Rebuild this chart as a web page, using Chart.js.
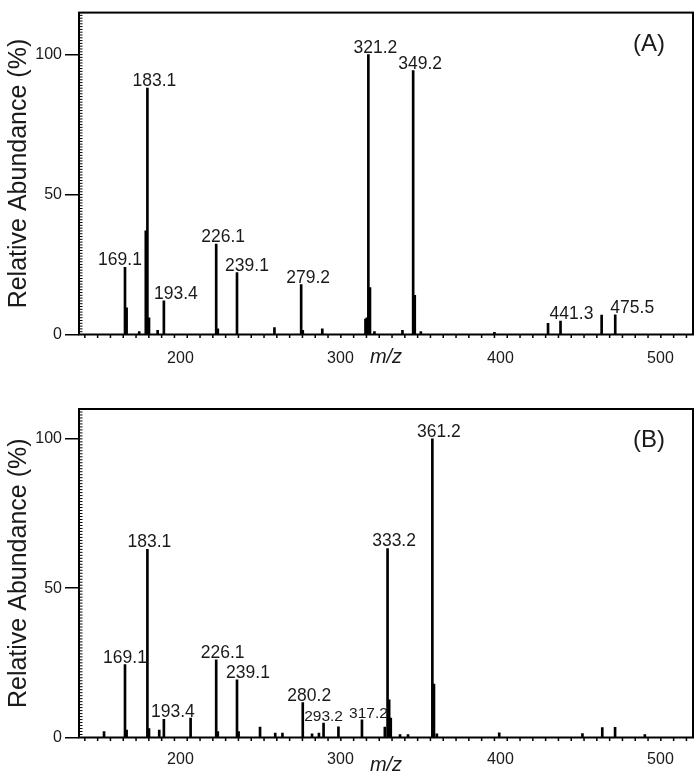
<!DOCTYPE html>
<html><head><meta charset="utf-8">
<script src="https://cdn.jsdelivr.net/npm/chart.js@4/dist/chart.umd.min.js"></script>
<style>
html,body{margin:0;padding:0;background:#fff;}
#wrap{position:relative;width:700px;height:777px;}
canvas{display:block;}
</style></head><body>
<div id="wrap">
<canvas id="cA" width="700" height="372"></canvas>
<canvas id="cB" width="700" height="405"></canvas>
</div>
<script>
// ---- data ----
const xTickValues = [200, 300, 400, 500];
const yTickValues = [0, 50, 100];
const yTitle = 'Relative Abundance (%)';
const xTitle = 'm/z';

const mzA = [169.1, 170.1, 178.0, 182.1, 183.1, 184.1, 189.5, 193.4, 226.1, 227.1, 239.1, 262.5, 279.2, 280.2, 292.4, 319.4, 320.2, 321.2, 322.2, 325.0, 342.5, 349.2, 350.2, 354.0, 400.0, 433.5, 441.3, 467.0, 475.5];
const abA = [24.0, 9.5, 1.0, 37.0, 88.0, 6.0, 1.5, 12.0, 32.3, 2.0, 22.1, 2.5, 17.8, 1.5, 2.0, 5.5, 6.0, 100.0, 16.8, 1.0, 1.5, 94.3, 14.0, 1.0, 0.8, 4.0, 4.8, 6.9, 7.0];
const labelsA = ['169.1', '183.1', '193.4', '226.1', '239.1', '279.2', '321.2', '349.2', '441.3', '475.5'];

const mzB = [156.0, 169.1, 170.1, 183.1, 184.1, 190.5, 193.4, 210.1, 226.1, 227.1, 239.1, 240.1, 253.5, 263.0, 267.5, 280.2, 286.0, 290.3, 293.2, 302.5, 317.2, 331.5, 333.2, 334.2, 335.2, 341.0, 346.0, 361.2, 362.2, 364.0, 403.0, 455.0, 467.4, 475.4, 494.0];
const abB = [2.0, 24.4, 2.5, 63.0, 3.0, 2.5, 6.1, 6.5, 26.0, 2.0, 19.3, 2.0, 3.5, 1.5, 1.5, 11.7, 1.2, 1.5, 4.8, 3.6, 5.9, 3.5, 63.3, 12.6, 6.5, 1.0, 1.0, 100.0, 17.9, 1.2, 1.6, 1.3, 3.3, 3.4, 1.0];
const labelsB = ['169.1', '183.1', '193.4', '226.1', '239.1', '280.2', '293.2', '317.2', '333.2', '361.2'];

const panelNames = ['(A)', '(B)'];

// ---- drawing ----
const FONT = '"Liberation Sans", Arial, Helvetica, sans-serif';
const TXT = '#1a1a1a';

const decor = {
  id: 'decor',
  afterDatasetsDraw(chart, args, o) {
    const ctx = chart.ctx, xs = chart.scales.x, ys = chart.scales.y, ca = chart.chartArea;
    ctx.save();
    ctx.strokeStyle = '#000';
    ctx.lineWidth = 1;
    // y minor ticks (inside)
    for (let v = 0; v <= ys.max; v += 1) {
      const y = ys.getPixelForValue(v);
      ctx.beginPath(); ctx.moveTo(ca.left, y); ctx.lineTo(ca.left + 3.5, y); ctx.stroke();
    }
    // x minor ticks (below axis)
    ctx.lineWidth = 1.5;
    for (let v = 200 - 64; v <= xs.max; v += 8) {
      if (v < xs.min) continue;
      const x = xs.getPixelForValue(v);
      ctx.beginPath(); ctx.moveTo(x, ca.bottom); ctx.lineTo(x, ca.bottom + 3.5); ctx.stroke();
    }
    // frame
    ctx.lineWidth = 2;
    ctx.strokeRect(ca.left, ca.top, ca.right - ca.left, ca.bottom - ca.top);
    // peak labels
    const pts = chart.data.datasets[0].data;
    ctx.fillStyle = TXT;
    ctx.textAlign = 'center';
    ctx.textBaseline = 'alphabetic';
    o.labels.forEach(lab => {
      const v = parseFloat(lab);
      const p = pts.find(q => q.x === v);
      if (!p) return;
      const small = o.small.includes(lab);
      ctx.font = (small ? '15.5px ' : '17.5px ') + FONT;
      const dx = (lab in o.nudge) ? o.nudge[lab] : o.dx;
      ctx.fillText(lab, xs.getPixelForValue(v) + dx, ys.getPixelForValue(p.y) - 2);
    });
    // panel name
    ctx.font = '24px ' + FONT;
    ctx.textBaseline = 'middle';
    ctx.fillText(o.name, ca.right - 44, ca.top + 31.5);
    ctx.restore();
  }
};

function makePanel(id, mz, ab, labels, cfg) {
  const data = mz.map((m, i) => ({ x: m, y: ab[i] }));
  return new Chart(document.getElementById(id), {
    type: 'bar',
    data: { datasets: [{ data, backgroundColor: '#000', borderWidth: 0, barThickness: 2 }] },
    options: {
      responsive: false, animation: false, devicePixelRatio: 1,
      layout: { padding: { top: cfg.padTop, right: 7, left: 0, bottom: 0 } },
      plugins: {
        legend: { display: false }, tooltip: { enabled: false },
        decor: { labels, name: cfg.name, dx: cfg.dx, nudge: cfg.nudge, small: cfg.small }
      },
      scales: {
        x: {
          type: 'linear', min: 140.35, max: 524.1, offset: false,
          grid: { display: false, offset: false },
          border: { display: false },
          afterBuildTicks: s => { s.ticks = xTickValues.map(v => ({ value: v })); },
          afterFit: s => { s.height = cfg.xH; },
          ticks: { padding: cfg.xPad, labelOffset: 6, maxRotation: 0, autoSkip: false,
                   color: TXT, font: { family: FONT, size: 16 } },
          title: { display: true, text: xTitle, color: TXT,
                   font: { family: FONT, size: 20, style: 'italic' },
                   padding: { top: 0, bottom: cfg.xTitlePad } }
        },
        y: {
          min: 0, max: cfg.yMax,
          grid: { display: true, drawOnChartArea: false, drawTicks: true, tickLength: 14,
                  color: '#000', lineWidth: 1.5 },
          border: { display: false },
          afterBuildTicks: s => { s.ticks = yTickValues.map(v => ({ value: v })); },
          afterFit: s => { s.width = 79; },
          ticks: { padding: 3, color: TXT, font: { family: FONT, size: 16 } },
          title: { display: true, text: yTitle, color: TXT,
                   font: { family: FONT, size: 25 }, padding: { top: 4, bottom: 0 } }
        }
      }
    },
    plugins: [decor]
  });
}

makePanel('cA', mzA, abA, labelsA, {
  name: panelNames[0], padTop: 8.5, xH: 37.5, xPad: 6, xTitlePad: 3, yMax: 115, dx: 7,
  nudge: { '169.1': -5, '193.4': 12, '239.1': 10, '441.3': 11, '475.5': 17 }, small: []
});
makePanel('cB', mzB, abB, labelsB, {
  name: panelNames[1], padTop: 37, xH: 39.5, xPad: 4, xTitlePad: 0, yMax: 110, dx: 6.5,
  nudge: { '169.1': 0, '183.1': 2, '193.4': 9, '239.1': 11, '293.2': 0 }, small: ['293.2', '317.2']
});
</script>
</body></html>
